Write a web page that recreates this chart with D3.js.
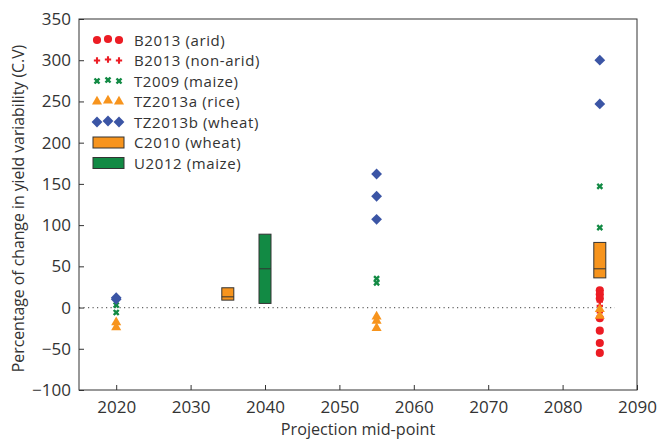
<!DOCTYPE html>
<html>
<head>
<meta charset="utf-8">
<script src="https://cdn.jsdelivr.net/npm/d3@7"></script>
<style>
  html, body { margin: 0; padding: 0; background: #fff; }
  svg text { font-family: "Open Sans", "DejaVu Sans", sans-serif; fill: #333; }
</style>
</head>
<body>
<svg id="chart" width="662" height="441"></svg>
<script>
// Projection mid-points and percentage change in yield variability (C.V)
const aridYears = [2085, 2085, 2085, 2085, 2085, 2085, 2085];
const aridValues = [21, 16, 11, -13, -28, -43, -55];

const nonAridYears = [2085, 2085, 2085];
const nonAridValues = [7, 2, -6];

const maizeT2009Years = [2020, 2020, 2055, 2055, 2085, 2085];
const maizeT2009Values = [3, -6, 35, 30, 147, 97];

const riceYears = [2020, 2020, 2055, 2055, 2055, 2085, 2085];
const riceValues = [-18, -24, -11, -16, -25, -2, -10];

const wheatYears = [2020, 2020, 2055, 2055, 2055, 2085, 2085];
const wheatValues = [12, 10, 162, 135, 107, 300, 247];

// Ranges: [low, median, high]
const c2010Years = [2035, 2085];
const c2010Ranges = [[9, 13, 24], [36, 47, 79]];

const u2012Years = [2040];
const u2012Ranges = [[5, 47, 89]];

const xTicks = [2020, 2030, 2040, 2050, 2060, 2070, 2080, 2090];
const yTicks = [-100, -50, 0, 50, 100, 150, 200, 250, 300, 350];

const legendLabels = ["B2013 (arid)", "B2013 (non-arid)", "T2009 (maize)", "TZ2013a (rice)",
                      "TZ2013b (wheat)", "C2010 (wheat)", "U2012 (maize)"];

const RED = "#ec1c24", GREEN = "#128a44", ORANGE = "#f7941d", BLUE = "#3b55a5", INK = "#333";

const svg = d3.select("#chart");
const plotLeft = 79, plotRight = 637, plotTop = 19, plotBottom = 390;

const x = d3.scaleLinear().domain([2015, 2090]).range([plotLeft, plotRight]);
const y = d3.scaleLinear().domain([-100, 350]).range([plotBottom, plotTop]);

// Zero reference line
svg.append("line")
  .attr("x1", x(2015)).attr("x2", x(2087))
  .attr("y1", y(0)).attr("y2", y(0))
  .attr("stroke", "#666").attr("stroke-width", 1.2)
  .attr("stroke-dasharray", "1.2,3.3");

// Axes with inward ticks
const xAxis = d3.axisBottom(x).tickValues(xTicks).tickSize(-5).tickPadding(11).tickFormat(d3.format("d"));
const yAxis = d3.axisLeft(y).tickValues(yTicks).tickSize(-5).tickPadding(8).tickFormat(d => d < 0 ? "\u2212" + Math.abs(d) : d);

const gx = svg.append("g").attr("transform", `translate(0,${plotBottom})`).call(xAxis);
const gy = svg.append("g").attr("transform", `translate(${plotLeft},0)`).call(yAxis);
[gx, gy].forEach(g => {
  g.select(".domain").remove();
  g.selectAll(".tick line").attr("stroke", INK);
  g.selectAll(".tick text").attr("font-size", 17).style("fill", INK);
});

// Frame
svg.append("rect")
  .attr("x", plotLeft).attr("y", plotTop)
  .attr("width", plotRight - plotLeft).attr("height", plotBottom - plotTop)
  .attr("fill", "none").attr("stroke", INK).attr("stroke-width", 1);

// Axis titles
svg.append("text")
  .attr("x", (plotLeft + plotRight) / 2).attr("y", 435)
  .attr("text-anchor", "middle").attr("font-size", 16.2)
  .text("Projection mid-point");
svg.append("text")
  .attr("transform", `translate(24,${(plotTop + plotBottom) / 2 + 4}) rotate(-90)`)
  .attr("text-anchor", "middle").attr("font-size", 15.8)
  .text("Percentage of change in yield variability (C.V)");

// Marker shapes
const shapes = {
  circle: { type: d3.symbolCircle, size: 52, rot: 0, fill: RED },
  plus: { type: d3.symbolCross, size: 22, rot: 0, fill: RED },
  times: { type: d3.symbolCross, size: 28, rot: 45, fill: GREEN },
  triangle: { type: d3.symbolTriangle, size: 44, rot: 0, fill: ORANGE },
  diamond: { type: d3.symbolSquare, size: 58, rot: 45, fill: BLUE }
};

function drawPoints(years, values, shape) {
  const s = shapes[shape];
  const path = d3.symbol().type(s.type).size(s.size)();
  svg.append("g").selectAll("path")
    .data(years.map((yr, i) => [yr, values[i]]))
    .join("path")
    .attr("d", path)
    .attr("transform", d => `translate(${x(d[0])},${y(d[1])}) rotate(${s.rot})`)
    .attr("fill", s.fill);
}

function drawBoxes(years, ranges, color) {
  const w = 12;
  const g = svg.append("g");
  years.forEach((yr, i) => {
    const [lo, med, hi] = ranges[i];
    g.append("rect")
      .attr("x", x(yr) - w / 2).attr("y", y(hi))
      .attr("width", w).attr("height", y(lo) - y(hi))
      .attr("fill", color).attr("stroke", INK).attr("stroke-width", 1);
    g.append("line")
      .attr("x1", x(yr) - w / 2).attr("x2", x(yr) + w / 2)
      .attr("y1", y(med)).attr("y2", y(med))
      .attr("stroke", INK).attr("stroke-width", 1);
  });
}

drawBoxes(c2010Years, c2010Ranges, ORANGE);
drawBoxes(u2012Years, u2012Ranges, GREEN);
drawPoints(aridYears, aridValues, "circle");
drawPoints(nonAridYears, nonAridValues, "plus");
drawPoints(riceYears, riceValues, "triangle");
drawPoints(maizeT2009Years, maizeT2009Values, "times");
drawPoints(wheatYears, wheatValues, "diamond");

// Legend
const legend = svg.append("g");
const rowY = i => 40 + i * 20.5;
const markerKeys = ["circle", "plus", "times", "triangle", "diamond"];
markerKeys.forEach((k, i) => {
  const s = shapes[k];
  const path = d3.symbol().type(s.type).size(s.size)();
  [97, 108, 119].forEach((mx, j) => {
    legend.append("path")
      .attr("d", path)
      .attr("transform", `translate(${mx},${rowY(i) - (j === 1 ? 1 : 0)}) rotate(${s.rot})`)
      .attr("fill", s.fill);
  });
});
[ORANGE, GREEN].forEach((c, j) => {
  const i = 5 + j;
  legend.append("rect")
    .attr("x", 93).attr("y", rowY(i) - 5.5)
    .attr("width", 31).attr("height", 11)
    .attr("fill", c).attr("stroke", INK).attr("stroke-width", 1);
});
legendLabels.forEach((t, i) => {
  legend.append("text")
    .attr("x", 134).attr("y", rowY(i) + 5.5)
    .attr("font-size", 15)
    .attr("letter-spacing", 0.6)
    .text(t);
});
</script>
</body>
</html>
